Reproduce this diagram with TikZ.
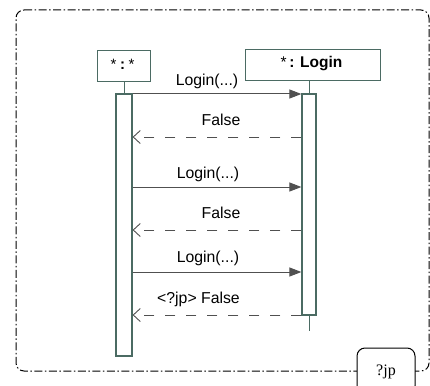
\documentclass[tikz,border=0pt]{standalone}
\usepackage{fontspec}
\setmainfont{Liberation Sans}
\newfontfamily\framefont{Liberation Serif}
\usetikzlibrary{arrows.meta}
\definecolor{lifeline}{HTML}{4B6B63}
\definecolor{msgline}{HTML}{505050}
\tikzset{
  objbox/.style={draw=lifeline, line width=1pt, fill=white, inner sep=0pt},
  actbox/.style={draw=lifeline, line width=1.2pt, fill=white, inner sep=0pt},
  stem/.style={draw=lifeline, line width=1pt},
  callmsg/.style={draw=msgline, line width=1pt, -{Triangle[length=12pt,width=9pt]}},
  retmsg/.style={draw=msgline, line width=1pt, dash pattern=on 10pt off 11pt,
                 -{Straight Barb[length=7pt,width=13pt,line width=0.9pt]}},
  msglabel/.style={font=\fontsize{15.8}{18}\selectfont, anchor=base, inner sep=0pt},
  framebox/.style={draw=black, line width=1pt, rounded corners=8pt,
                   dash pattern=on 8pt off 2.5pt on 1.5pt off 2.5pt},
}
\begin{document}
\begin{tikzpicture}[x=1pt, y=-1pt]
  \useasboundingbox (0,0) rectangle (430,385);

  % enclosing fragment frame
  \draw[framebox] (16,10) -- (429,10) -- (429,371) -- (16,371) -- cycle;
  \node[draw=black, line width=1pt, rounded corners=8pt, fill=white,
        minimum width=58pt, minimum height=46pt, inner sep=0pt] (tag) at (386,371) {};
  \node[font=\framefont\fontsize{16}{18}\selectfont, anchor=base, inner sep=0pt]
        (tagtext) at (386,375) {?jp};

  % object heads
  \node[objbox, minimum width=53pt, minimum height=31pt] (caller) at (123.5,66.5) {};
  \node[font=\fontsize{15}{18}\selectfont, anchor=base, inner sep=0pt] (callername)
        at (122.5,70) {*\hspace{3.5pt}\textbf{:}\hspace{3.5pt}*};
  \node[objbox, minimum width=135pt, minimum height=31pt] (login) at (312.5,65) {};
  \node[font=\fontsize{15.5}{18}\selectfont, anchor=base, inner sep=0pt] (loginname)
        at (311.5,68) {*\,\textbf{: Login}};

  % activation bars
  \node[actbox, minimum width=16pt, minimum height=262pt] (actA) at (124,225) {};
  \node[actbox, minimum width=14pt, minimum height=221pt] (actB) at (309,204.5) {};

  % lifeline stems
  \draw[stem] (caller.south -| actA.north) -- (actA.north);
  \draw[stem] (login.south -| actB.north) -- (actB.north);
  \coordinate (tail) at (309,331);
  \draw[stem] (actB.south) -- (tail);

  % message rows
  \coordinate (r1) at (0,94);
  \coordinate (r2) at (0,137);
  \coordinate (r3) at (0,187);
  \coordinate (r4) at (0,230);
  \coordinate (r5) at (0,272);
  \coordinate (r6) at (0,315);

  \draw[callmsg] (actA.east |- r1) -- (actB.west |- r1);
  \draw[retmsg]  (actB.west |- r2) -- (actA.east |- r2);
  \draw[callmsg] (actA.east |- r3) -- (actB.west |- r3);
  \draw[retmsg]  (actB.west |- r4) -- (actA.east |- r4);
  \draw[callmsg] (actA.east |- r5) -- (actB.west |- r5);
  \draw[retmsg]  (actB.west |- r6) -- (actA.east |- r6);

  \node[msglabel] (l1) at (207,86)  {Login(...)};
  \node[msglabel] (l2) at (221,125) {False};
  \node[msglabel] (l3) at (208,178) {Login(...)};
  \node[msglabel] (l4) at (221,218) {False};
  \node[msglabel] (l5) at (208,262) {Login(...)};
  \node[msglabel] (l6) at (198.5,303) {<?jp> False};
\end{tikzpicture}
\end{document}
